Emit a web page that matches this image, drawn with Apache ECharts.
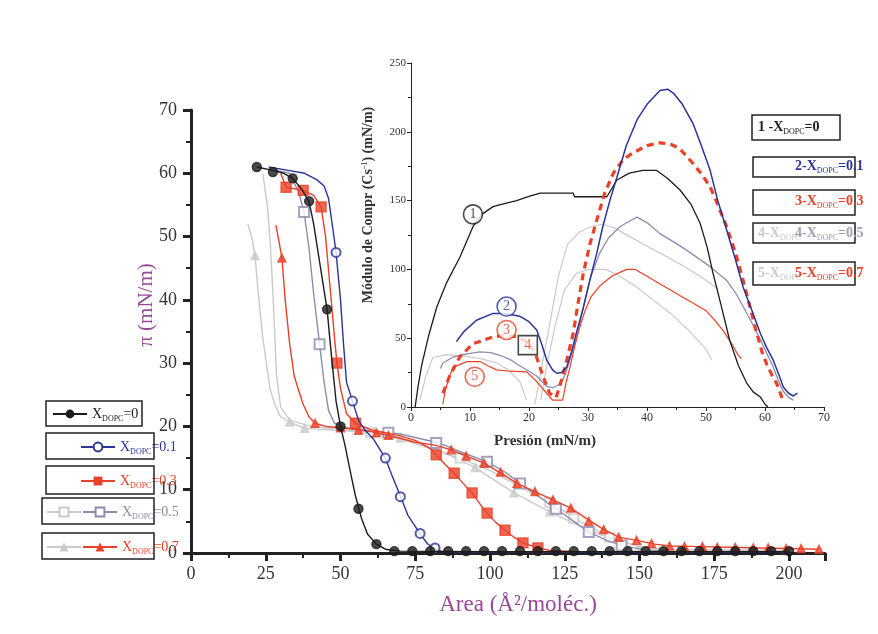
<!DOCTYPE html>
<html><head><meta charset="utf-8">
<script src="https://cdn.jsdelivr.net/npm/echarts@6/dist/echarts.min.js"></script>
<style>html,body{margin:0;padding:0;background:#fff}#c{width:878px;height:634px}</style>
</head><body><div id="c"></div>
<script>
// ---------- Main chart: pi-A isotherms  [area (Å²/molec), pi (mN/m)] ----------
const isoX0 = [[22,61],[27,60.5],[31,60],[34,59.2],[37,57.5],[39.5,55.5],[41,52],[43,46],[45.5,38.5],[47,31],[48.5,24],[50,20],[51.5,17],[53,13.5],[55,9],[57,5.5],[59,3],[62,1.4],[65,0.6],[70,0.3],[100,0.2],[150,0.2],[200,0.2]];
const isoX0Marks = [[22,61],[27.4,60.2],[34,59.2],[39.5,55.6],[45.5,38.5],[50,20],[56,7],[62,1.4],[68,0.3],[74,0.3],[80,0.3],[86,0.3],[92,0.3],[98,0.3],[104,0.3],[110,0.3],[116,0.3],[122,0.3],[128,0.3],[134,0.3],[140,0.3],[146,0.3],[152,0.3],[158,0.3],[164,0.3],[170,0.3],[176,0.3],[182,0.3],[188,0.3],[194,0.3],[200,0.3]];
const isoX01 = [[26,61],[32,60.5],[38,60],[42,59],[44.5,58],[46,56],[47.5,51],[48.5,47.5],[50,40],[51,33],[52,27],[54,24],[56,21],[58,19.5],[61,18],[63,16.5],[65,15],[67,12.5],[70,9],[72.5,6],[76.5,3.1],[79,1.5],[81.6,0.6],[84,0.2],[100,0.1],[200,0.1]];
const isoX01Marks = [[48.5,47.5],[54,24],[65,15],[70,8.9],[76.6,3.1],[81.6,0.8]];
const isoX03 = [[30,60],[31.8,57.8],[37.5,57.3],[41,56.5],[43.5,54.7],[45,50],[46.5,42],[48,34],[48.8,30],[50,26],[52,22],[55,20.5],[60,19.5],[65,19],[70,18.5],[75,17.8],[80,16.5],[82,15.5],[85,14],[88,12.6],[91,11],[94,9.5],[97,7.5],[99,6.3],[102,4.8],[105,3.6],[108,2.5],[111,1.6],[116,0.8],[120,0.4],[130,0.2],[200,0.2]];
const isoX03Marks = [[31.8,57.8],[37.5,57.3],[43.5,54.7],[48.8,30],[55,20.5],[82,15.5],[88,12.6],[94,9.5],[99,6.3],[105,3.6],[111,1.6],[116,0.8]];
const isoX05 = [[28,60.5],[33,60],[36,57],[37.8,53.9],[39.5,48],[41,41],[43,33],[44.5,27],[46,22.5],[48,20.5],[52,19.8],[60,19.3],[70,18.8],[80,17.7],[85,17],[90,16],[99,14.4],[105,12.8],[110,11],[116,9],[122,7],[128,5],[133,3.3],[140,1.8],[146,1],[152,0.5],[160,0.3],[200,0.2]];
const isoX05Marks = [[37.8,53.9],[43,33],[66,19],[82,17.4],[99,14.4],[110,11],[122,7],[133,3.3],[144,1.2]];
const isoGhostSq = [[24,60],[25.5,55],[26.5,49],[27.5,40],[28.6,28],[30,23],[33,21],[40,20],[50,19.5],[60,19],[70,18],[80,16.5],[90,15],[100,13],[110,10.5],[120,8],[130,5],[140,2.5],[150,1],[160,0.4]];
const isoGhostSqMarks = [[60,19],[90,15],[120,8],[128,5.5],[140,2.5]];
const isoX07 = [[28.4,51.8],[29.5,49],[30.4,46.6],[31.5,40],[33,33],[34.5,28],[35.8,26],[37.5,23.5],[39.5,21.5],[41.5,20.5],[45,20],[50,19.8],[55,19.5],[60,19.2],[66,18.6],[75,17.5],[82,17],[87,16.3],[92,15.3],[98,14.2],[104,12.5],[109,11],[115,9.7],[121,8.4],[127,7.1],[132,5.5],[137,4],[143,2.5],[149,2],[155,1.4],[160,1.1],[170,1],[180,0.9],[190,0.8],[200,0.7],[210,0.6]];
const isoX07Marks = [[30.4,46.6],[41.5,20.5],[50,19.8],[56,19.4],[62,19],[66,18.6],[87,16.3],[92,15.3],[98,14.2],[103.5,12.8],[109,11],[115,9.7],[121,8.4],[127,7.1],[133,5],[138,3.7],[143,2.5],[149,2],[154,1.5],[160,1.1],[165,1],[171,1],[176,0.9],[182,0.9],[188,0.8],[193,0.8],[199,0.7],[204,0.7],[210,0.6]];
const isoGhostTri = [[19,52],[20.5,49.5],[21.4,47],[22.5,41],[24,34],[25.5,29],[26.4,26],[28,23.5],[30,21.5],[33,20.7],[38,19.7],[45,19.5],[55,19.2],[65,18.7],[75,17.5],[85,15.8],[95,13.5],[108,9.5],[120,6.5],[133,3.6],[142,2],[150,1],[160,0.6],[200,0.4]];
const isoGhostTriMarks = [[21.4,47],[33,20.7],[38,19.7],[70,18.2],[95,13.5],[108,9.5],[120,6.5],[133,3.6],[150,1]];

// ---------- Inset: compression modulus  [pressure (mN/m), Cs^-1 (mN/m)] ----------
const cs1 = [[0.7,0],[1.2,15],[1.8,30],[3,52],[4.4,73],[6,90],[8.3,109],[10.5,131],[12,140],[13.9,145.6],[16,148],[17.9,150],[20,153],[21.9,155.5],[27.5,155.5],[27.7,152.8],[33.2,152.8],[34.9,165],[37,170],[39.3,172],[41.6,172],[43.5,166],[45.6,157.7],[47.5,147],[49,133.6],[50.2,116],[51.2,97],[52.5,75],[54,48.7],[55.5,30],[56.9,17.4],[58,11],[59.2,7.3],[60,2],[60.5,0]];
const cs2 = [[7.7,47.5],[9,55],[11.1,63],[13.9,68],[16,68],[18.4,66],[20,62],[21.3,56],[22.2,45],[23,34],[24,27],[24.7,24.5],[25.5,25],[26.4,29],[27.2,40],[28,53.5],[29.2,72],[30.3,92],[31.5,112],[32.5,131],[33.7,150],[34.9,167],[36.5,190],[38.3,208.6],[40,220],[42.2,230],[43.5,231],[44.5,228],[46,220],[47.8,206],[49.2,190],[50.7,172],[52,150],[53.5,128.6],[55,107],[56.3,87],[57.8,70],[59.2,53.6],[60.3,43],[61.4,34],[62.3,24],[63.1,14.5],[64,10],[64.8,8],[65.5,10]];
const cs3 = [[5.4,10],[6.5,22],[8.3,36.6],[10.5,46],[12,48],[13.9,51],[16,52],[18,51],[19.8,47],[21,40],[22.4,22],[23.5,10],[24.6,7],[25.7,22],[26.5,36],[27.5,53.6],[28.3,75],[29.2,97],[30.3,118],[31.5,136],[32.8,155],[34.3,170],[36,180],[37.6,184.6],[40,190],[42.2,192],[44,191],[45.5,188],[47.8,177],[49.3,169],[50.7,160],[52,147],[53.5,131],[55,112],[56.3,92],[57.5,72],[58.6,53.6],[59.5,40],[60.3,31],[61.2,23],[62,17],[62.6,10],[63.1,4]];
const cs4 = [[5,28],[5.4,32],[7,36],[8.3,37.6],[10,39],[11.7,40],[13.5,39.5],[15.1,37.6],[17,34],[18.4,30],[20,26],[21.3,22.5],[22.3,18],[23,15],[24,14],[25,16],[26,22],[27,35],[28,50],[28.6,61],[29.5,78],[30.5,95],[32,112],[33.5,123],[35.4,131],[37,135],[38.3,138],[40,134],[42.2,126],[44.5,120],[46.7,114],[48.7,108],[50.7,102],[53.5,92],[55,83],[56.3,73],[57.8,61],[59.2,49],[60.3,39],[61.4,29],[62.2,20],[63,12],[64,7],[64.8,5]];
const cs5 = [[5.4,2],[5.8,12],[6.5,22],[7.1,29],[8.3,31],[9.5,33],[11.7,33],[13,30],[14.5,27],[16.8,26],[19.6,25.5],[21.3,18.5],[23,10],[24,5],[25.7,5],[26.3,18],[27,30],[27.8,45],[28.6,58],[29.5,70],[30.5,80],[32,88],[34,95],[35.5,98],[36.6,100],[38,100],[40,95],[42,90],[44,85],[46,80],[48,75],[50,70],[51.5,63],[53,55],[54.5,45],[55.4,38],[56,35]];
const csGhostA = [[21,2],[22,25],[23.5,60],[25,95],[26.5,118],[28.5,127],[30.5,131],[32.5,133],[34.5,130],[37,124],[40,117],[43,110],[46,103],[49,95],[52,86]];
const csGhostB = [[22,5],[23,30],[24.5,60],[26,85],[28,97],[30,100],[33,100],[35,96],[38,88],[41,78],[44,68],[47,56],[50,42],[51,34]];
const csGhostC = [[1.5,5],[2.5,22],[3.7,36],[6,38],[9,37],[12,35],[14.5,32],[16.5,27],[18.5,18],[19.6,5]];
const insetTags = [[10.5,140,'1'],[16.2,73,'2'],[16.2,56,'3'],[19.8,45,'4'],[10.8,22,'5']];

// ---------- tick labels / texts ----------
const mainXTicks = [0,25,50,75,100,125,150,175,200];
const mainYTicks = [0,10,20,30,40,50,60,70];
const insetXTicks = [0,10,20,30,40,50,60,70];
const insetYTicks = [0,50,100,150,200,250];
const mainLegendValues = {X0:'0', X01:'0.1', X03:'0.3', X05:'0.5', X07:'0.7'};
const subName = 'DOPC';

// ---------- styles ----------
const C = {black:'#1c1c1c', blue:'#2a3596', red:'#ea4128', gray:'#8c8cae', light:'#cacaca', purple:'#9a4898'};
const serif = '"Liberation Serif","DejaVu Serif",serif';
const rich = {
  sub:{fontSize:8, fontFamily:serif, padding:[9,0,0,0]},
  sup:{fontSize:9, fontFamily:serif, padding:[0,0,7,0]}
};

function mainLine(name, data, color, symbol, z){
  return {type:'line', name, xAxisIndex:0, yAxisIndex:0, data, showSymbol:false, symbol, symbolSize:9,
    lineStyle:{color, width:1.4}, itemStyle:{color}, z, animation:false, silent:true};
}
function mainMarks(name, data, color, symbol, size, z){
  return {type:'scatter', name, xAxisIndex:0, yAxisIndex:0, data, symbol, symbolSize:size,
    itemStyle:{color, borderColor:color, borderWidth:1.4}, z, animation:false, silent:true};
}
function insetLine(data, color, width, type, z){
  return {type:'line', xAxisIndex:1, yAxisIndex:1, data, showSymbol:false, symbol:'none',
    lineStyle:{color, width, type}, z, animation:false, silent:true};
}

const series = [
  mainLine('ghostSq', isoGhostSq, C.light, 'emptyRect', 2),
  mainMarks('ghostSq', isoGhostSqMarks, C.light, 'emptyRect', 9, 2),
  mainLine('ghostTri', isoGhostTri, C.light, 'triangle', 2),
  mainMarks('ghostTri', isoGhostTriMarks, C.light, 'triangle', 8, 2),
  mainLine('X05', isoX05, C.gray, 'emptyRect', 3),
  mainMarks('X05', isoX05Marks, C.gray, 'emptyRect', 10, 3),
  mainLine('X07', isoX07, C.red, 'triangle', 4),
  mainMarks('X07', isoX07Marks, C.red, 'triangle', 8, 4),
  mainLine('X03', isoX03, C.red, 'rect', 5),
  mainMarks('X03', isoX03Marks, C.red, 'rect', 10, 5),
  mainLine('X01', isoX01, C.blue, 'emptyCircle', 6),
  mainMarks('X01', isoX01Marks, C.blue, 'emptyCircle', 9, 6),
  mainLine('X0', isoX0, C.black, 'circle', 7),
  mainMarks('X0', isoX0Marks, C.black, 'circle', 9, 7),

  insetLine(csGhostA, C.light, 1.2, 'solid', 2),
  insetLine(csGhostB, C.light, 1.2, 'solid', 2),
  insetLine(csGhostC, C.light, 1.2, 'solid', 2),
  insetLine(cs4, C.gray, 1.3, 'solid', 3),
  insetLine(cs5, C.red, 1.2, 'solid', 4),
  insetLine(cs1, C.black, 1.3, 'solid', 5),
  insetLine(cs3, C.red, 3.2, [7,5], 6),
  insetLine(cs2, C.blue, 1.5, 'solid', 7),
  {type:'scatter', xAxisIndex:1, yAxisIndex:1, z:9, animation:false, silent:true,
    data: insetTags.map((t,i)=>({value:[t[0],t[1]], name:t[2],
      symbol: i===3 ? 'rect' : 'circle',
      itemStyle:{color:'#fff', borderWidth:1.6, borderColor:[C.black,C.blue,C.red,C.black,C.red][i]},
      label:{color:[C.black,C.blue,C.red,C.red,C.red][i]}})),
    symbolSize:19,
    label:{show:true, position:'inside', formatter:p=>p.name, fontFamily:serif, fontSize:14}}
];

function legendFmt(name){
  if(name.indexOf('ghost')===0) return '';
  return 'X{sub|' + subName + '}=' + mainLegendValues[name];
}
function mkLegend(names, left, top, color){
  return {data:names, left, top, orient:'horizontal', selectedMode:false, padding:0, itemGap:0,
    itemWidth:34, itemHeight:11, formatter:legendFmt,
    textStyle:{color, fontFamily:serif, fontSize:14, rich}};
}

function box(x,y,w,h){
  return {type:'rect', shape:{x,y,width:w,height:h}, style:{fill:'transparent', stroke:'#222', lineWidth:1.5}, z:10};
}
function txt(x,y,text,color,extra){
  return Object.assign({type:'text', x, y, z:11, style:{text, fill:color, font:'bold 14px '+serif, verticalAlign:'middle', rich}}, extra||{});
}

const option = {
  backgroundColor:'#fff',
  animation:false,
  grid:[
    {left:191, top:110, width:634, height:443},
    {left:411, top:63, width:413, height:344}
  ],
  xAxis:[
    {gridIndex:0, type:'value', min:0, max:212, interval:25,
      name:'Area (Å²/moléc.)', nameLocation:'middle', nameGap:40,
      nameTextStyle:{color:C.purple, fontFamily:serif, fontSize:23, padding:[0,0,0,20]},
      axisLine:{lineStyle:{color:'#222', width:3}},
      axisTick:{length:8, lineStyle:{width:3, color:'#222'}},
      minorTick:{show:true, splitNumber:2, length:5, lineStyle:{width:2, color:'#222'}},
      splitLine:{show:false},
      axisLabel:{margin:12, color:'#333', fontFamily:serif, fontSize:18,
        formatter:v=>mainXTicks.indexOf(v)>=0?String(v):''}},
    {gridIndex:1, type:'value', min:0, max:70, interval:10,
      axisLine:{lineStyle:{color:'#222', width:1}},
      axisTick:{length:4, lineStyle:{width:1, color:'#222'}},
      minorTick:{show:true, splitNumber:2, length:3, lineStyle:{width:1, color:'#222'}},
      splitLine:{show:false},
      axisLabel:{margin:5, color:'#333', fontFamily:serif, fontSize:12,
        formatter:v=>insetXTicks.indexOf(v)>=0?String(v):''}}
  ],
  yAxis:[
    {gridIndex:0, type:'value', min:0, max:70, interval:10,
      axisLine:{lineStyle:{color:'#222', width:3}},
      axisTick:{length:8, lineStyle:{width:3, color:'#222'}},
      minorTick:{show:true, splitNumber:2, length:5, lineStyle:{width:2, color:'#222'}},
      splitLine:{show:false},
      axisLabel:{margin:14, color:'#333', fontFamily:serif, fontSize:18,
        formatter:v=>mainYTicks.indexOf(v)>=0?String(v):''}},
    {gridIndex:1, type:'value', min:0, max:250, interval:50,
      axisLine:{lineStyle:{color:'#222', width:1}},
      axisTick:{length:4, lineStyle:{width:1, color:'#222'}},
      minorTick:{show:true, splitNumber:2, length:3, lineStyle:{width:1, color:'#222'}},
      splitLine:{show:false},
      axisLabel:{margin:5, color:'#333', fontFamily:serif, fontSize:11,
        formatter:v=>insetYTicks.indexOf(v)>=0?String(v):''}}
  ],
  legend:[
    mkLegend(['X0'], 52, 407, C.black),
    mkLegend(['X01'], 80, 440, C.blue),
    mkLegend(['X03'], 80, 474, C.red),
    mkLegend(['ghostSq','X05'], 46, 505, C.gray),
    mkLegend(['ghostTri','X07'], 46, 540, C.red)
  ],
  graphic:[
    box(46,401,96,25), box(46,433,108,26), box(46,466,108,28), box(42,498,112,26), box(42,533,112,26),
    box(752,115,88,25), box(753,157,102,20), box(753,190,102,25), box(753,223,102,20), box(753,262,102,23),
    txt(758,127,'1 -X{sub|'+subName+'}=0', C.black),
    txt(795,166,'2-X{sub|'+subName+'}=0.1', C.blue),
    txt(795,201,'3-X{sub|'+subName+'}=0.3', C.red),
    txt(758,233,'4-X{sub|'+subName+'}', C.light),
    txt(795,233,'4-X{sub|'+subName+'}=0.5', '#a0a0b4'),
    txt(758,273,'5-X{sub|'+subName+'}', C.light),
    txt(795,273,'5-X{sub|'+subName+'}=0.7', C.red),
    {type:'text', x:545, y:441, z:11, style:{text:'Presión (mN/m)', fill:'#333', font:'bold 15px '+serif, align:'center', verticalAlign:'middle'}},
    {type:'text', x:368, y:205, rotation:Math.PI/2, z:11, style:{text:'Módulo de Compr (Cs{sup|-1}) (mN/m)', fill:'#333', font:'bold 14px '+serif, align:'center', verticalAlign:'middle', rich}},
    {type:'text', x:146, y:305, rotation:Math.PI/2, z:11, style:{text:'π (mN/m)', fill:C.purple, font:'21px '+serif, align:'center', verticalAlign:'middle'}}
  ],
  series
};
const chart = echarts.init(document.getElementById('c'), null, {renderer:'canvas'});
chart.setOption(option);
</script></body></html>
